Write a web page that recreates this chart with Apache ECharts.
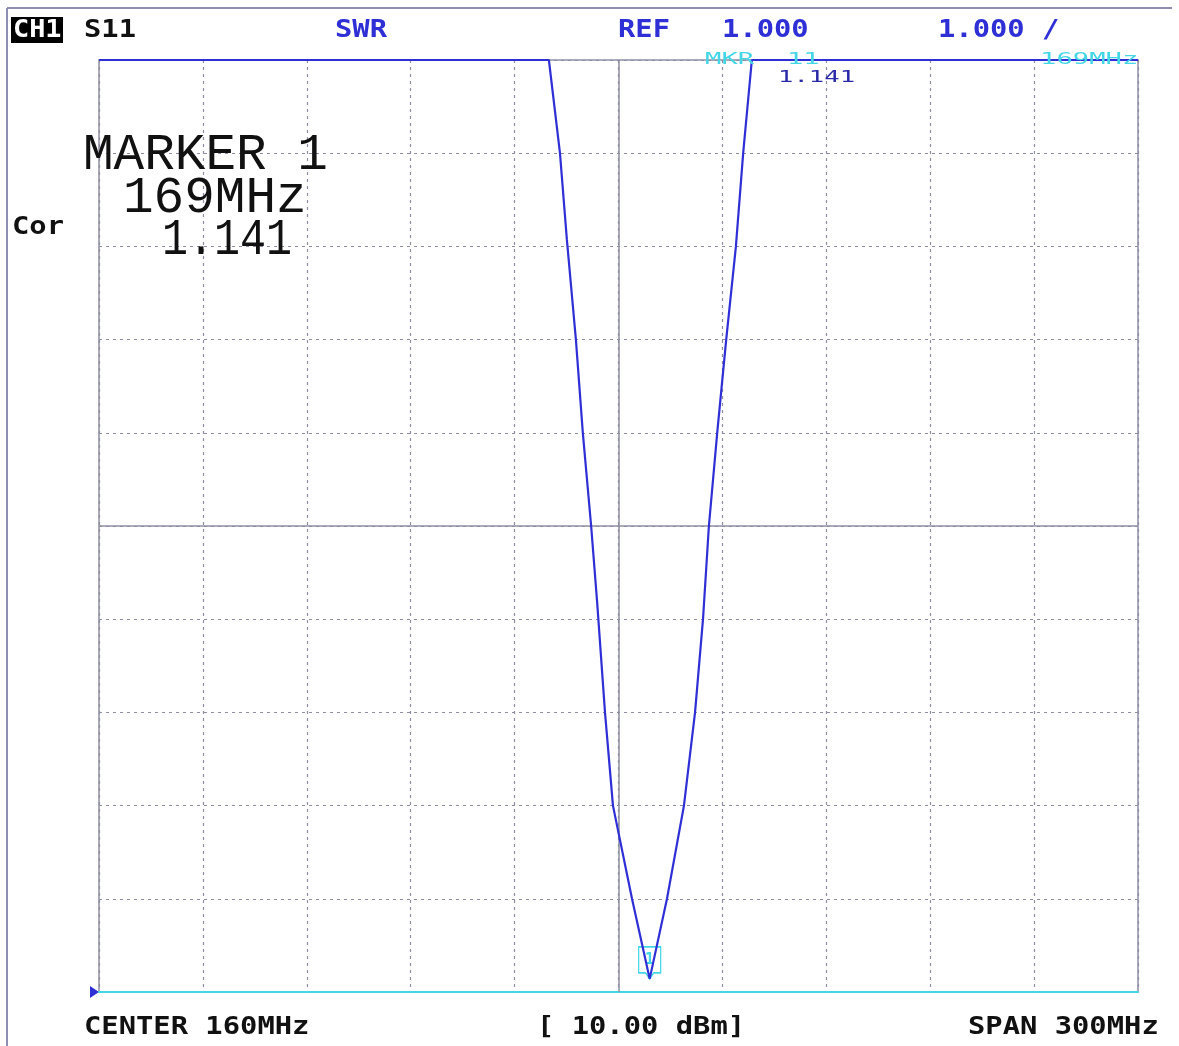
<!DOCTYPE html>
<html>
<head>
<meta charset="utf-8">
<style>
html,body{margin:0;padding:0;background:#ffffff;}
#chart{width:1179px;height:1046px;}
</style>
<script src="https://cdn.jsdelivr.net/npm/echarts@6/dist/echarts.min.js"></script>
</head>
<body>
<div id="chart"></div>
<script>
// Trace data (frequency in MHz, SWR value)
var freqMHz = [10, 139.9, 143.1, 145.1, 147.7, 149.7, 152.1, 153.8, 156.1, 158.4, 163.9, 169.0, 174.0, 178.9, 182.1, 184.4, 186.1, 188.5, 191.1, 193.9, 196.0, 198.5, 310];
var swr     = [11, 11, 10.0, 9.07, 8.0, 7.0, 6.0, 5.2, 4.0, 3.0, 2.0, 1.141, 2.0, 3.0, 4.0, 5.0, 6.0, 7.0, 8.0, 9.0, 10.0, 11, 11];
// Marker 1
var markerFreq = [169];
var markerSwr = [1.141];
// Axis settings (center 160 MHz, span 300 MHz, 1.000 / div from REF 1.000)
var freqMin = 10, freqMax = 310;
var divOffsetMax = 300, divStep = 30;
var swrMin = 1, swrMax = 11, swrStep = 1;
var centerFreq = [160];
var centerSwr = [6];

var tracePoints = freqMHz.map(function (f, i) { return [f, swr[i]]; });
var markerPoints = markerFreq.map(function (f, i) { return { coord: [f, markerSwr[i]], value: markerSwr[i] }; });

var BLUE = '#2f2fd6';
var CYAN = '#45d6e6';
var GRID = '#8e8ea2';
var MONO = '"DejaVu Sans Mono", monospace';

function hdr(text, x, y, color, extra) {
  var o = {
    type: 'text', x: x, y: y, scaleX: 1.2, z: 10,
    style: { text: text, fill: color, fontFamily: MONO, fontSize: 24, fontWeight: 'bold', align: 'left', verticalAlign: 'middle' }
  };
  if (extra) { for (var k in extra) o[k] = extra[k]; }
  return o;
}
function bigText(text, x, y, sx) {
  return {
    type: 'text', x: x, y: y, scaleX: sx || 1, z: 10,
    style: { text: text, fill: '#111111', fontFamily: '"Liberation Mono", monospace', fontSize: 51, fontWeight: 'normal', align: 'left', verticalAlign: 'middle' }
  };
}
function smallText(text, x, y, color, sx) {
  return {
    type: 'text', x: x, y: y, scaleX: sx, z: 10,
    style: { text: text, fill: color, fontFamily: MONO, fontSize: 16, fontWeight: 'normal', align: 'left', verticalAlign: 'middle' }
  };
}

var chart = echarts.init(document.getElementById('chart'));
chart.setOption({
  animation: false,
  backgroundColor: '#ffffff',
  grid: { left: 99, right: 41, top: 60, bottom: 54, show: true, borderColor: GRID, borderWidth: 1.5, containLabel: false },
  xAxis: [
    {
      type: 'value', min: 0, max: divOffsetMax, interval: divStep, position: 'bottom',
      axisLine: { show: true, onZero: false, lineStyle: { color: CYAN, width: 2 } },
      axisTick: { show: false }, axisLabel: { show: false },
      splitLine: { show: true, lineStyle: { color: GRID, width: 1.2, type: [3, 4] } }
    },
    {
      type: 'value', min: freqMin, max: freqMax, show: false,
      splitLine: { show: false }
    }
  ],
  yAxis: {
    type: 'value', min: swrMin, max: swrMax, interval: swrStep,
    axisLine: { show: false }, axisTick: { show: false }, axisLabel: { show: false },
    splitLine: { show: true, lineStyle: { color: GRID, width: 1.2, type: [3, 4] } }
  },
  series: [
    {
      type: 'line', xAxisIndex: 1, data: tracePoints, showSymbol: false, symbol: 'none',
      clip: false, z: 5,
      lineStyle: { color: BLUE, width: 2.2 },
      markLine: {
        silent: true, symbol: 'none', label: { show: false }, z: 1,
        lineStyle: { color: GRID, width: 1.5, type: 'solid' },
        data: [{ xAxis: centerFreq[0] }, { yAxis: centerSwr[0] }]
      },
      markPoint: {
        silent: true,
        symbol: 'path://M0,0 L22,0 L22,26 L15,26 L11,32 L7,26 L0,26 Z',
        symbolSize: [22, 32], symbolOffset: [0, -16], symbolKeepAspect: false,
        itemStyle: { color: 'rgba(255,255,255,0)', borderColor: CYAN, borderWidth: 1.5 },
        label: { show: true, formatter: '1', position: 'inside', offset: [0, -3], color: CYAN, fontFamily: MONO, fontSize: 16, fontWeight: 'bold' },
        data: markerPoints
      }
    }
  ],
  graphic: [
    // outer frame
    { type: 'line', shape: { x1: 7, y1: 8, x2: 1172, y2: 8 }, style: { stroke: '#8e8eb2', lineWidth: 2 } },
    { type: 'line', shape: { x1: 7, y1: 8, x2: 7, y2: 1046 }, style: { stroke: '#8e8eb2', lineWidth: 2 } },
    // header
    { type: 'rect', shape: { x: 11, y: 17, width: 52, height: 26 }, style: { fill: '#000000' } },
    hdr('CH1', 13, 31, '#ffffff', { scaleX: 1.12 }),
    hdr('S11', 84, 31, '#111111'),
    hdr('SWR', 335, 31, BLUE),
    hdr('REF', 618, 31, BLUE),
    hdr('1.000', 722, 31, BLUE),
    hdr('1.000 /', 938, 31, BLUE),
    hdr('Cor', 12, 228, '#111111'),
    // footer
    hdr('CENTER 160MHz', 84, 1028, '#111111'),
    hdr('[ 10.00 dBm]', 537, 1028, '#111111'),
    hdr('SPAN 300MHz', 968, 1028, '#111111'),
    // reference position triangle
    { type: 'polygon', shape: { points: [[90, 986], [99, 992], [90, 998]] }, style: { fill: BLUE } },
    // marker readout
    bigText('MARKER 1', 83, 155),
    bigText('169MHz', 123, 198),
    bigText('1.141', 162, 240, 0.85),
    smallText('MKR  11', 705, 60, CYAN, 1.7),
    smallText('169MHz', 1040, 60, CYAN, 1.7),
    smallText('1.141', 778, 78, '#2a2aa8', 1.6)
  ]
});
</script>
</body>
</html>
